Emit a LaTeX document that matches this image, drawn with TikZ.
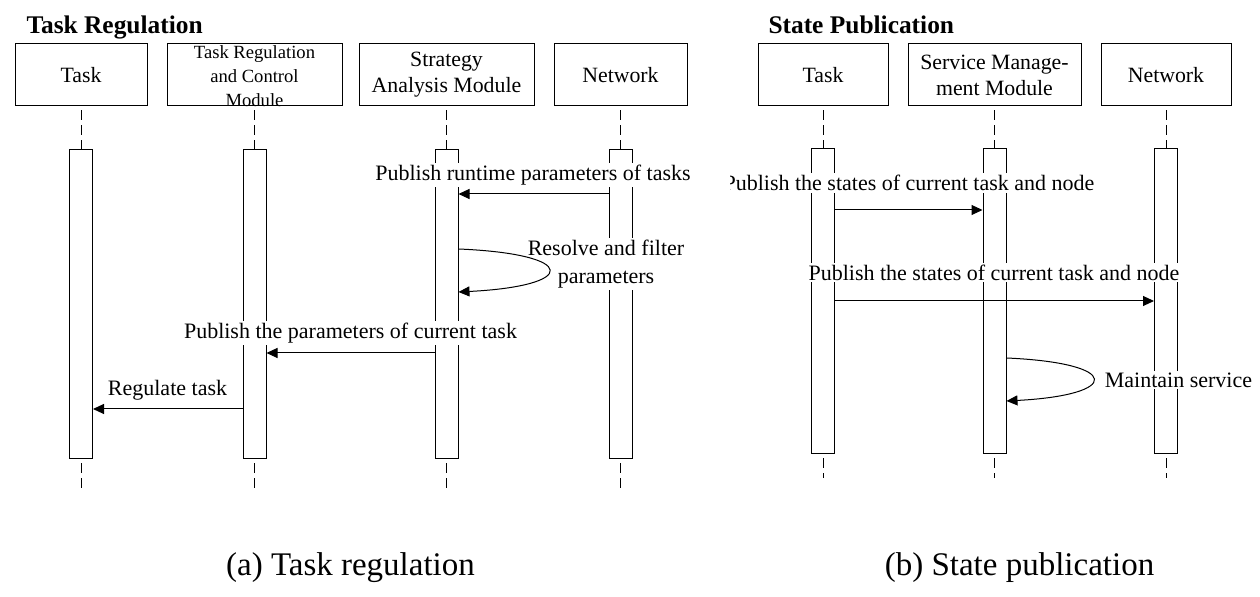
\documentclass[tikz,border=0pt]{standalone}
\usepackage{fontspec}
\setmainfont{Liberation Serif}
\usetikzlibrary{arrows.meta}
\tikzset{
	head/.style={draw, minimum height=31pt, inner sep=0pt, align=center, font=\fontsize{10.9}{13}\selectfont},
	bar/.style={draw, fill=white, minimum width=11.5pt, inner sep=0pt},
	life/.style={dash pattern=on 5pt off 2.5pt, shorten <=2pt},
	msg/.style={-{Triangle[length=5.5pt,width=5pt]}},
	lbl/.style={fill=white, inner sep=1pt, align=center, font=\fontsize{11}{14}\selectfont},
	ttl/.style={anchor=base west, inner sep=0pt, font=\fontsize{12.7}{15}\selectfont\bfseries},
	captext/.style={font=\fontsize{16.5}{20}\selectfont}
}
\begin{document}
\begin{tikzpicture}[x=.5pt, y=-.5pt, line width=.5pt]
	\useasboundingbox (0,0) rectangle (1260,597);
	%Task Regulation
	\node[ttl] (ttlA) at (26,34) {Task Regulation};
	\node[head, minimum width=66pt]   (tTask)  at (81,75)    {Task};
	\node[head, minimum width=87.5pt] (tCtrl)  at (254.5,75) {};
	\node[align=center, font=\fontsize{9.3}{12}\selectfont] (tCtrlTxt) at (254.5,76) {Task Regulation\\and Control\\Module};
	\node[head, minimum width=87.5pt] (tStrat) at (446.5,75) {Strategy\\Analysis Module};
	\node[head, minimum width=66.5pt] (tNet)   at (620.5,75) {Network};
	\node[bar, minimum height=154.5pt] (bTask)  at (81,304.5)    {};
	\node[bar, minimum height=154.5pt] (bCtrl)  at (254.5,304.5) {};
	\node[bar, minimum height=154.5pt] (bStrat) at (446.5,304.5) {};
	\node[bar, minimum height=154.5pt] (bNet)   at (620.5,304.5) {};
	\foreach \n in {Task,Ctrl,Strat,Net}{
		\draw[life] (t\n.south) -- (b\n.north);
		\draw[life] (b\n.south) -- ++(0,31);
	}
	\node[lbl] (mRun) at (533,175)   {Publish runtime parameters of tasks};
	\node[lbl] (mRes) at (606,264)   {Resolve and filter\\parameters};
	\node[lbl] (mPar) at (350.5,333) {Publish the parameters of current task};
	\node[lbl] (mReg) at (167.5,390) {Regulate task};
	\draw[msg] (bNet.west |- 0,194)    -- (bStrat.east |- 0,194);
	\draw[msg] (bStrat.east |- 0,249)  .. controls (579,254) and (579,286) .. (bStrat.east |- 0,292);
	\draw[msg] (bStrat.west |- 0,353)  -- (bCtrl.east |- 0,353);
	\draw[msg] (bCtrl.west |- 0,409)   -- (bTask.east |- 0,409);
	%State Publication
	\node[ttl] (ttlB) at (768,34) {State Publication};
	\node[head, minimum width=65pt]   (tTaskB) at (823,75)    {Task};
	\node[head, minimum width=86.5pt] (tServ)  at (994.5,75)  {Service Manage-\\ment Module};
	\node[head, minimum width=65pt]   (tNetB)  at (1166,75)   {Network};
	\node[bar, minimum height=152.7pt] (bTaskB) at (823,301.3)   {};
	\node[bar, minimum height=152.7pt] (bServ)  at (994.5,301.3) {};
	\node[bar, minimum height=152.7pt] (bNetB)  at (1166,301.3)  {};
	\foreach \n in {TaskB,Serv,NetB}{
		\draw[life] (t\n.south) -- (b\n.north);
		\draw[life] (b\n.south) -- ++(0,24);
	}
	\begin{scope}
		\clip (730,160) rectangle (1260,205);
		\node[lbl] (mSt1) at (909,183) {Publish the states of current task and node};
	\end{scope}
	\node[lbl] (mSt2) at (994,272.5)  {Publish the states of current task and node};
	\node[lbl] (mMnt) at (1178.5,380) {Maintain service};
	\draw[msg] (bTaskB.east |- 0,210) -- (bServ.west |- 0,210);
	\draw[msg] (bTaskB.east |- 0,301) -- (bNetB.west |- 0,301);
	\draw[msg] (bServ.east |- 0,358)  .. controls (1122,363) and (1122,395) .. (bServ.east |- 0,401);
	%captions
	\node[captext] (capA) at (350.5,568)  {(a) Task regulation};
	\node[captext] (capB) at (1019.5,568) {(b) State publication};
\end{tikzpicture}
\end{document}
